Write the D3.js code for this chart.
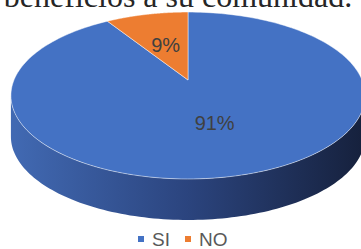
<!DOCTYPE html>
<html>
<head>
<meta charset="utf-8">
<script src="https://cdn.jsdelivr.net/npm/d3@7"></script>
<style>
  body { margin: 0; background: #fff; }
  svg { display: block; }
  .sans { font-family: 'Liberation Sans', Arial, sans-serif; }
  .serif { font-family: 'Liberation Serif', 'Times New Roman', serif; }
</style>
</head>
<body>
<div id="chart"></div>
<script>
// chart data
const CATEGORIES = ["SI", "NO"];
const VALUES = [91, 9];
const LABELS = ["91%", "9%"];
const COLORS = ["#4472C4", "#ED7D31"];
const TITLE = "beneficios a su comunidad.";

const FRAME_WIDTH = 361;
const FRAME_HEIGHT = 249;

// 3d pie geometry (perspective projected disk)
const CX = 188, CY = 80;
const R = 174, K = 0.463, P = 0.186;
const DEPTH = 41;

const svg = d3.select("#chart")
  .append("svg")
    .attr("width", FRAME_WIDTH)
    .attr("height", FRAME_HEIGHT);

// a: d3 angle (0 at top, clockwise), f: radius fraction
function proj(a, f, dy) {
  const u = Math.sin(a) * f;
  const v = -Math.cos(a) * f;
  const w = 1 - P * v;
  return [CX + R * u / w, CY + R * K * v / w + (dy || 0)];
}

const colorScale = d3.scaleOrdinal().domain(CATEGORIES).range(COLORS);
const sideScale = d3.scaleOrdinal().domain(CATEGORIES)
  .range([["#4169b2", "#2b447e", "#16213d"], ["#c0631f", "#8a4514", "#5c2d0b"]]);

const pie = d3.pie().sort(null).value(d => d.value);
const arcs = pie(CATEGORIES.map((c, i) => ({cat: c, value: VALUES[i], label: LABELS[i]})));

// gradients for the side wall
const defs = svg.append("defs");
arcs.forEach((d, i) => {
  const g = defs.append("linearGradient")
    .attr("id", "side" + i)
    .attr("gradientUnits", "userSpaceOnUse")
    .attr("x1", CX - R).attr("x2", CX + R)
    .attr("y1", 0).attr("y2", 0);
  const stops = sideScale(d.data.cat);
  stops.forEach((s, j) => {
    g.append("stop").attr("offset", j / (stops.length - 1)).attr("stop-color", s);
  });
});

// visible front arc of the rim
const FRONT0 = Math.acos(-P);
const FRONT1 = 2 * Math.PI - Math.acos(-P);
const line = d3.line();

arcs.forEach((d, i) => {
  const a0 = Math.max(d.startAngle, FRONT0);
  const a1 = Math.min(d.endAngle, FRONT1);
  if (a1 <= a0) return;
  const n = 120;
  const top = d3.range(n + 1).map(j => proj(a0 + (a1 - a0) * j / n, 1, 0));
  const bot = d3.range(n + 1).map(j => proj(a0 + (a1 - a0) * j / n, 1, DEPTH)).reverse();
  svg.append("path")
    .attr("d", line(top.concat(bot)) + "Z")
    .attr("fill", "url(#side" + i + ")");
});

// top face slices
arcs.forEach(d => {
  const n = 200;
  const pts = [proj(0, 0, 0)].concat(
    d3.range(n + 1).map(j => proj(d.startAngle + (d.endAngle - d.startAngle) * j / n, 1, 0)));
  svg.append("path")
    .attr("d", line(pts) + "Z")
    .attr("fill", colorScale(d.data.cat))
    .attr("stroke", "#ffffff")
    .attr("stroke-opacity", 0.6)
    .attr("stroke-width", 0.8)
    .attr("stroke-linejoin", "round");
});

// data labels
arcs.forEach(d => {
  const p = proj((d.startAngle + d.endAngle) / 2, 0.5, 0);
  svg.append("text")
    .attr("class", "sans")
    .attr("x", p[0])
    .attr("y", p[1])
    .attr("dy", "0.36em")
    .attr("text-anchor", "middle")
    .attr("font-size", 20)
    .attr("fill", "#404040")
    .text(d.data.label);
});

// title (cut at the top of the picture, as in the source)
svg.append("text")
  .attr("class", "serif")
  .attr("x", 178)
  .attr("y", 7)
  .attr("text-anchor", "middle")
  .attr("font-size", 32)
  .attr("fill", "#262626")
  .text(TITLE);

// legend
const legendX = d3.scalePoint().domain(CATEGORIES).range([138, 185]);
const legend = svg.selectAll(".legend")
  .data(CATEGORIES)
  .enter()
  .append("g")
    .attr("class", "legend")
    .attr("transform", d => "translate(" + legendX(d) + ",239)");

legend.append("rect")
  .attr("x", 0).attr("y", -3)
  .attr("width", 6).attr("height", 6)
  .attr("fill", d => colorScale(d));

legend.append("text")
  .attr("class", "sans")
  .attr("x", 14)
  .attr("y", 7)
  .attr("font-size", 19)
  .attr("fill", "#595959")
  .text(d => d);
</script>
</body>
</html>
